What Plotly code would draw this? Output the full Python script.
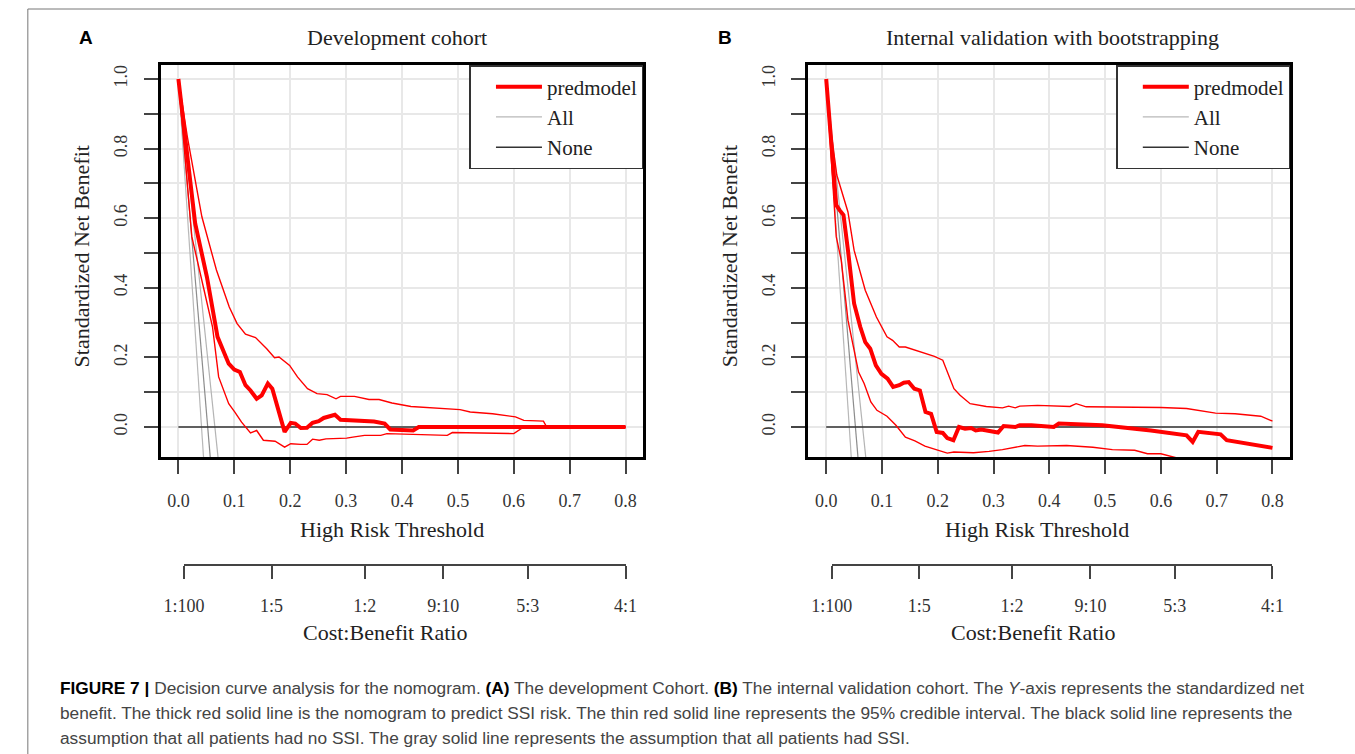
import plotly.graph_objects as go

# ---------------- data ----------------
# Panel A: Development cohort
dev_model_t = [0, 0.030, 0.051, 0.070, 0.090, 0.100, 0.110, 0.120, 0.129, 0.140, 0.149, 0.160, 0.168,
               0.190, 0.201, 0.209, 0.219, 0.230, 0.240, 0.251, 0.260, 0.270, 0.280, 0.290, 0.350,
               0.369, 0.379, 0.420, 0.430, 0.800]
dev_model_nb = [1.0, 0.585, 0.431, 0.259, 0.182, 0.165, 0.158, 0.120, 0.105, 0.081, 0.091, 0.125, 0.110,
                -0.014, 0.012, 0.010, -0.003, -0.002, 0.012, 0.017, 0.026, 0.031, 0.035, 0.021, 0.016,
                0.010, -0.007, -0.010, 0.000, 0.000]

dev_upper_t = [0, 0.016, 0.042, 0.068, 0.091, 0.105, 0.120, 0.138, 0.158, 0.172, 0.180, 0.199, 0.213,
               0.231, 0.248, 0.266, 0.282, 0.290, 0.315, 0.341, 0.359, 0.382, 0.416, 0.452, 0.504,
               0.522, 0.562, 0.603, 0.618, 0.653, 0.659, 0.800]
dev_upper_nb = [1.0, 0.834, 0.604, 0.451, 0.345, 0.297, 0.267, 0.257, 0.225, 0.199, 0.201, 0.177, 0.144,
                0.110, 0.096, 0.093, 0.081, 0.088, 0.088, 0.079, 0.079, 0.069, 0.059, 0.056, 0.050,
                0.043, 0.038, 0.029, 0.019, 0.017, 0.000, 0.000]

dev_lower_t = [0, 0.024, 0.046, 0.061, 0.072, 0.090, 0.101, 0.113, 0.129, 0.140, 0.152, 0.173, 0.190,
               0.201, 0.219, 0.230, 0.240, 0.252, 0.264, 0.301, 0.312, 0.333, 0.362, 0.373, 0.481,
               0.490, 0.600, 0.618, 0.800]
dev_lower_nb = [1.0, 0.547, 0.393, 0.288, 0.144, 0.067, 0.043, 0.014, -0.017, -0.010, -0.038, -0.041, -0.058,
                -0.048, -0.050, -0.050, -0.035, -0.038, -0.034, -0.032, -0.029, -0.024, -0.024, -0.019, -0.024,
                -0.016, -0.019, 0.000, 0.000]

# Panel B: Internal validation with bootstrapping
val_model_t = [0, 0.018, 0.024, 0.031, 0.039, 0.050, 0.061, 0.070, 0.079, 0.089, 0.099, 0.110, 0.120,
               0.131, 0.139, 0.148, 0.158, 0.168, 0.178, 0.188, 0.198, 0.209, 0.217, 0.228, 0.238,
               0.249, 0.260, 0.268, 0.278, 0.290, 0.308, 0.318, 0.339, 0.347, 0.368, 0.408, 0.417,
               0.495, 0.582, 0.646, 0.657, 0.667, 0.707, 0.718, 0.800]
val_model_nb = [1.0, 0.638, 0.623, 0.609, 0.508, 0.355, 0.288, 0.244, 0.225, 0.177, 0.153, 0.139, 0.115,
                0.120, 0.127, 0.129, 0.110, 0.105, 0.043, 0.038, -0.014, -0.017, -0.032, -0.038, 0.000,
                -0.005, -0.003, -0.010, -0.007, -0.010, -0.016, 0.003, 0.000, 0.005, 0.005, 0.000, 0.010,
                0.005, -0.010, -0.024, -0.043, -0.014, -0.021, -0.038, -0.060]

val_upper_t = [0, 0.009, 0.019, 0.029, 0.039, 0.050, 0.061, 0.070, 0.090, 0.109, 0.119, 0.131, 0.142,
               0.171, 0.194, 0.209, 0.220, 0.229, 0.240, 0.258, 0.287, 0.316, 0.327, 0.339, 0.347,
               0.379, 0.437, 0.448, 0.466, 0.513, 0.600, 0.646, 0.698, 0.733, 0.779, 0.800]
val_upper_nb = [1.0, 0.844, 0.724, 0.671, 0.618, 0.508, 0.441, 0.393, 0.316, 0.259, 0.249, 0.230, 0.230,
                0.216, 0.203, 0.192, 0.149, 0.110, 0.091, 0.067, 0.059, 0.055, 0.060, 0.055, 0.060,
                0.062, 0.059, 0.067, 0.058, 0.058, 0.056, 0.053, 0.040, 0.038, 0.031, 0.017]

val_lower_t = [0, 0.018, 0.027, 0.039, 0.050, 0.058, 0.068, 0.080, 0.091, 0.109, 0.125, 0.142, 0.159,
               0.177, 0.197, 0.217, 0.229, 0.264, 0.292, 0.316, 0.356, 0.379, 0.431, 0.478, 0.513,
               0.553, 0.576, 0.600, 0.634, 0.650]
val_lower_nb = [1.0, 0.547, 0.479, 0.307, 0.221, 0.158, 0.125, 0.072, 0.048, 0.031, 0.005, -0.029, -0.040,
                -0.055, -0.065, -0.075, -0.072, -0.074, -0.070, -0.065, -0.053, -0.055, -0.053, -0.058, -0.065,
                -0.067, -0.077, -0.077, -0.091, -0.100]

# "All" strategy lines (three, each panel): start and end as read
all_t = [[0, 0.045], [0, 0.057], [0, 0.071]]
all_nb = [[1.0, -0.088], [1.0, -0.088], [1.0, -0.088]]

# "None" strategy
none_t = [0.0, 0.8]
none_nb = [0.0, 0.0]

# axis ticks
x_ticks = [0.0, 0.1, 0.2, 0.3, 0.4, 0.5, 0.6, 0.7, 0.8]
x_ticklabels = ["0.0", "0.1", "0.2", "0.3", "0.4", "0.5", "0.6", "0.7", "0.8"]
y_ticks = [0.0, 0.1, 0.2, 0.3, 0.4, 0.5, 0.6, 0.7, 0.8, 0.9, 1.0]
y_ticklabels = ["0.0", "", "0.2", "", "0.4", "", "0.6", "", "0.8", "", "1.0"]
cb_ticks = [0.0099, 0.1667, 0.3333, 0.4737, 0.625, 0.8]
cb_labels = ["1:100", "1:5", "1:2", "9:10", "5:3", "4:1"]

titles = ["Development cohort", "Internal validation with bootstrapping"]

# ---------------- layout helpers ----------------
W, H = 1355, 754
SERIF = "Liberation Serif, Times New Roman, serif"
SANS = "Liberation Sans, Arial, sans-serif"

XR = [-0.032, 0.832]
YR = [-0.0862, 1.0402]
doms = [[143 / W, 638 / W], [807 / W, 1301 / W]]
ydom = [1 - 457 / H, 1 - 65 / H]
cb_line_y = 1 - 564 / H

RED = "#ff0000"
GRAYS = ["#b8b8b8", "#8c8c8c", "#b4b4b4"]

fig = go.Figure()

panels = [
    (dev_model_t, dev_model_nb, dev_upper_t, dev_upper_nb, dev_lower_t, dev_lower_nb),
    (val_model_t, val_model_nb, val_upper_t, val_upper_nb, val_lower_t, val_lower_nb),
]

for i, (mt, mv, ut, uv, lt, lv) in enumerate(panels):
    xa = "x" if i == 0 else "x2"
    ya = "y" if i == 0 else "y2"
    leg = "legend" if i == 0 else "legend2"
    for k in range(3):
        fig.add_trace(go.Scatter(x=all_t[k], y=all_nb[k], mode="lines", xaxis=xa, yaxis=ya,
                                 line=dict(color=GRAYS[k], width=1.2), name="All",
                                 showlegend=(k == 0), legend=leg, legendrank=2,
                                 hoverinfo="skip"))
    fig.add_trace(go.Scatter(x=none_t, y=none_nb, mode="lines", xaxis=xa, yaxis=ya,
                             line=dict(color="#333333", width=1.5), name="None",
                             legend=leg, legendrank=3, hoverinfo="skip"))
    fig.add_trace(go.Scatter(x=ut, y=uv, mode="lines", xaxis=xa, yaxis=ya,
                             line=dict(color=RED, width=1.4), showlegend=False, hoverinfo="skip"))
    fig.add_trace(go.Scatter(x=lt, y=lv, mode="lines", xaxis=xa, yaxis=ya,
                             line=dict(color=RED, width=1.4), showlegend=False, hoverinfo="skip"))
    fig.add_trace(go.Scatter(x=mt, y=mv, mode="lines", xaxis=xa, yaxis=ya,
                             line=dict(color=RED, width=4), name="predmodel",
                             legend=leg, legendrank=1, hoverinfo="skip"))
    # carrier trace for the cost:benefit axis
    fig.add_trace(go.Scatter(x=cb_ticks, y=[0.5] * len(cb_ticks), mode="markers",
                             xaxis="x%d" % (3 + i), yaxis="y%d" % (3 + i),
                             marker=dict(opacity=0, size=1), showlegend=False, hoverinfo="skip"))

main_x = dict(range=XR, tickmode="array", tickvals=x_ticks, ticktext=x_ticklabels,
              ticks="outside", ticklen=14, tickwidth=1.5, tickcolor="#444444",
              showline=True, mirror=True, linecolor="black", linewidth=3,
              showgrid=True, gridcolor="#e8e8e8", gridwidth=1.5, zeroline=False,
              tickfont=dict(family=SERIF, size=18, color="#333333"), ticklabelstandoff=11)
main_y = dict(range=YR, domain=ydom, tickmode="array", tickvals=y_ticks, ticktext=y_ticklabels,
              tickangle=-90, ticks="outside", ticklen=14, tickwidth=1.5, tickcolor="#444444",
              showline=True, mirror=True, linecolor="black", linewidth=3,
              showgrid=True, gridcolor="#e8e8e8", gridwidth=1.5, zeroline=False,
              tickfont=dict(family=SERIF, size=18, color="#333333"), ticklabelstandoff=9)

layout_axes = {}
for i in range(2):
    sx = "" if i == 0 else "2"
    layout_axes["xaxis" + sx] = dict(main_x, domain=doms[i], anchor="y" + sx)
    layout_axes["yaxis" + sx] = dict(main_y, anchor="x" + sx)
    # cost:benefit axis spanning only its first..last tick
    d0, d1 = doms[i]
    r0 = cb_ticks[0] - 1e-6
    r1 = cb_ticks[-1] + 1e-6
    f = lambda t: d0 + (t - XR[0]) / (XR[1] - XR[0]) * (d1 - d0)
    layout_axes["xaxis%d" % (3 + i)] = dict(
        domain=[f(r0), f(r1)], range=[r0, r1], anchor="y%d" % (3 + i),
        tickmode="array", tickvals=cb_ticks, ticktext=cb_labels,
        ticks="outside", ticklen=13, tickwidth=1.5, tickcolor="#444444",
        showline=True, linecolor="#444444", linewidth=1.5,
        showgrid=False, zeroline=False,
        tickfont=dict(family=SERIF, size=18, color="#333333"), ticklabelstandoff=12)
    layout_axes["yaxis%d" % (3 + i)] = dict(domain=[cb_line_y, cb_line_y + 0.01], range=[0, 1],
                                             visible=False, showgrid=False, zeroline=False)

legend_common = dict(xanchor="right", yanchor="top", y=1 - 65 / H, bgcolor="white",
                     bordercolor="#333333", borderwidth=1.5, itemwidth=46, indentation=20,
                     font=dict(family=SERIF, size=21, color="#222222"), tracegroupgap=0)

annotations = []
# panel letters and titles
for i, (lx, tx) in enumerate([(67, 385), (722, 1057)]):
    annotations.append(dict(text="<b>%s</b>" % ("A" if i == 0 else "B"), x=lx / W, y=1 - 37 / H,
                            xref="paper", yref="paper", showarrow=False, xanchor="center", yanchor="middle",
                            font=dict(family=SANS, size=19, color="black")))
    annotations.append(dict(text=titles[i], x=tx / W, y=1 - 37 / H, xref="paper", yref="paper",
                            showarrow=False, xanchor="center", yanchor="middle",
                            font=dict(family=SERIF, size=22, color="#222222")))
# axis titles
for i, (ylx, hx, cx) in enumerate([(63, 380, 373), (727, 1041, 1037)]):
    annotations.append(dict(text="Standardized Net Benefit", x=ylx / W, y=1 - 256 / H, xref="paper",
                            yref="paper", showarrow=False, textangle=-90, xanchor="center", yanchor="middle",
                            font=dict(family=SERIF, size=22, color="#222222")))
    annotations.append(dict(text="High Risk Threshold", x=hx / W, y=1 - 529 / H, xref="paper",
                            yref="paper", showarrow=False, xanchor="center", yanchor="middle",
                            font=dict(family=SERIF, size=22, color="#222222")))
    annotations.append(dict(text="Cost:Benefit Ratio", x=cx / W, y=1 - 632 / H, xref="paper",
                            yref="paper", showarrow=False, xanchor="center", yanchor="middle",
                            font=dict(family=SERIF, size=22, color="#222222")))

caption = [
    "<b><span style='color:#000'>FIGURE 7 |</span></b> Decision curve analysis for the nomogram. "
    "<b><span style='color:#000'>(A)</span></b> The development Cohort. <b><span style='color:#000'>(B)</span></b> "
    "The internal validation cohort. The <i>Y</i>-axis represents the standardized net",
    "benefit. The thick red solid line is the nomogram to predict SSI risk. The thin red solid line "
    "represents the 95% credible interval. The black solid line represents the",
    "assumption that all patients had no SSI. The gray solid line represents the assumption that all "
    "patients had SSI.",
]
for j, line in enumerate(caption):
    annotations.append(dict(text=line, x=38 / W, y=1 - (688 + 25 * j) / H, xref="paper", yref="paper",
                            showarrow=False, xanchor="left", yanchor="middle", align="left",
                            font=dict(family=SANS, size=17.3, color="#444444")))

fig.update_layout(
    width=W, height=H, autosize=False,
    margin=dict(l=0, r=0, t=0, b=0, pad=0),
    paper_bgcolor="white", plot_bgcolor="white",
    showlegend=True,
    legend=dict(legend_common, x=638 / W),
    legend2=dict(legend_common, x=1301 / W),
    annotations=annotations,
    shapes=[dict(type="rect", xref="paper", yref="paper", x0=7 / W, y0=1 - 9 / H, x1=1.02, y1=-0.02,
                 line=dict(color="#777777", width=1), fillcolor="rgba(0,0,0,0)", layer="below")],
    **layout_axes,
)

fig.write_html("out.html")
